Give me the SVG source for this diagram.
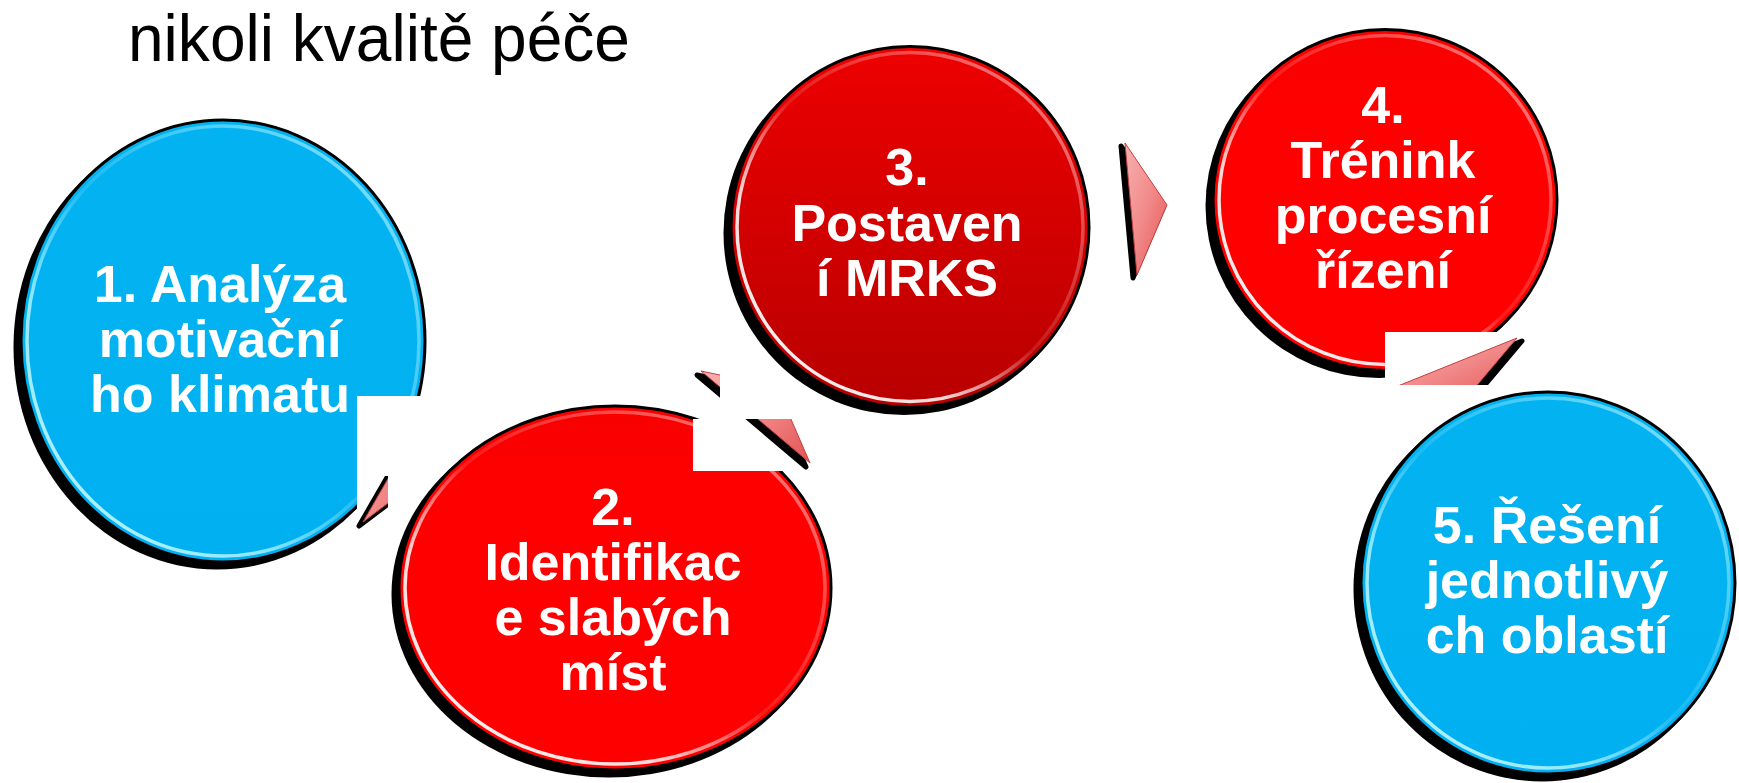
<svg xmlns="http://www.w3.org/2000/svg" width="1739" height="783" viewBox="0 0 1739 783">
<style>
.shadow{fill:#000}
.face{stroke:#000;stroke-width:3}
.rim{fill:none;stroke-width:3.5}
.lbl{font-family:"Liberation Sans",Arial,sans-serif;font-weight:bold;font-size:52px;fill:#fff;text-anchor:middle}
.title{font-family:"Liberation Sans",Arial,sans-serif;font-size:67px;fill:#000}
.ash{fill:#000;stroke:#000;stroke-width:5;stroke-linejoin:round}
.arr{fill:url(#gPink);stroke:#c04040;stroke-width:1;stroke-linejoin:round}
.wm{fill:#fff}
</style>
<defs>
<linearGradient id="gBlue" x1="0" y1="0" x2="0" y2="1"><stop offset="0" stop-color="#03b3f1"/><stop offset="1" stop-color="#00b0f0"/></linearGradient>
<linearGradient id="gRed" x1="0" y1="0" x2="0" y2="1"><stop offset="0" stop-color="#f80000"/><stop offset="0.25" stop-color="#ff0000"/><stop offset="1" stop-color="#ff0000"/></linearGradient>
<linearGradient id="gDark" x1="0" y1="0" x2="0" y2="1"><stop offset="0" stop-color="#ee0000"/><stop offset="1" stop-color="#b80000"/></linearGradient>
<linearGradient id="rimW" x1="0" y1="1" x2="1" y2="0"><stop offset="0" stop-color="#fff" stop-opacity="1"/><stop offset="0.3" stop-color="#fff" stop-opacity="0.85"/><stop offset="0.5" stop-color="#fff" stop-opacity="0.1"/><stop offset="0.75" stop-color="#fff" stop-opacity="0.3"/><stop offset="1" stop-color="#fff" stop-opacity="0.6"/></linearGradient>
<linearGradient id="rimB" x1="0" y1="1" x2="1" y2="0"><stop offset="0" stop-color="#c8f6ff" stop-opacity="1"/><stop offset="0.3" stop-color="#a0eeff" stop-opacity="0.9"/><stop offset="0.5" stop-color="#a0eeff" stop-opacity="0.15"/><stop offset="0.75" stop-color="#a0eeff" stop-opacity="0.5"/><stop offset="1" stop-color="#c8f6ff" stop-opacity="0.8"/></linearGradient>
<linearGradient id="gPink" x1="0" y1="0" x2="1" y2="1"><stop offset="0" stop-color="#f8b0b0"/><stop offset="0.5" stop-color="#f28a8a"/><stop offset="1" stop-color="#e45252"/></linearGradient>
<clipPath id="c12"><rect x="340" y="476" width="48" height="80"/></clipPath>
<clipPath id="c23"><rect x="600" y="300" width="120" height="200"/><rect x="600" y="419" width="300" height="100"/></clipPath>
<clipPath id="c45"><rect x="1300" y="300" width="300" height="85"/></clipPath>
</defs>

<text class="title" x="128" y="61" textLength="502" lengthAdjust="spacingAndGlyphs">nikoli kvalitě péče</text>

<g id="node1">
<ellipse class="shadow" cx="217" cy="347" rx="203.5" ry="222.5"/>
<ellipse class="face" cx="223" cy="341" rx="202" ry="221" fill="url(#gBlue)"/>
<ellipse class="rim" cx="223" cy="341" rx="196" ry="215" stroke="url(#rimB)"/>
<text class="lbl"><tspan x="220" y="302">1. Analýza</tspan><tspan x="220" y="357">motivační</tspan><tspan x="220" y="412">ho klimatu</tspan></text>
</g>

<g id="connectors">
<rect class="wm" x="357" y="396" width="83" height="145"/>
<g clip-path="url(#c12)">
<polygon class="ash" points="359,526 434,396 424,477"/>
<polygon class="arr" points="363,522 438,392 428,473"/>
</g>
</g>

<g id="node2">
<ellipse class="shadow" cx="609" cy="594" rx="217.5" ry="183.5"/>
<ellipse class="face" cx="615" cy="588" rx="216" ry="182" fill="url(#gRed)"/>
<ellipse class="rim" cx="615" cy="588" rx="210" ry="176" stroke="url(#rimW)"/>
<text class="lbl"><tspan x="613" y="525">2.</tspan><tspan x="613" y="580">Identifikac</tspan><tspan x="613" y="635">e slabých</tspan><tspan x="613" y="690">míst</tspan></text>
</g>

<g id="connectors2">
<rect class="wm" x="693" y="419" width="107" height="52"/>
<g clip-path="url(#c23)">
<polygon class="ash" points="697,375 806,467 773,391"/>
<polygon class="arr" points="701,371 810,463 777,387"/>
</g>
</g>

<g id="node3">
<ellipse class="shadow" cx="904" cy="233" rx="180.5" ry="182"/>
<ellipse class="face" cx="910" cy="227" rx="179" ry="180.5" fill="url(#gDark)"/>
<ellipse class="rim" cx="910" cy="227" rx="173" ry="174.5" stroke="url(#rimW)"/>
<text class="lbl"><tspan x="907" y="185">3.</tspan><tspan x="907" y="241">Postaven</tspan><tspan x="907" y="296">í MRKS</tspan></text>
</g>

<g id="connectors3">
<polygon class="ash" points="1121,146 1163,208 1133,278"/>
<polygon class="arr" points="1125,143 1167,205 1137,275"/>
</g>

<g id="node4">
<ellipse class="shadow" cx="1379" cy="206" rx="173.5" ry="172"/>
<ellipse class="face" cx="1385" cy="200" rx="172" ry="170.5" fill="url(#gRed)"/>
<ellipse class="rim" cx="1385" cy="200" rx="166" ry="164.5" stroke="url(#rimW)"/>
<text class="lbl"><tspan x="1383" y="123">4.</tspan><tspan x="1383" y="178">Trénink</tspan><tspan x="1383" y="233">procesní</tspan><tspan x="1383" y="288">řízení</tspan></text>
</g>

<g id="connectors4">
<rect class="wm" x="1385" y="332" width="160" height="54"/>
<g clip-path="url(#c45)">
<polygon class="ash" points="1522,341 1383,397 1467,406"/>
<polygon class="arr" points="1517,338 1378,394 1462,403"/>
</g>
</g>

<g id="node5">
<ellipse class="shadow" cx="1542" cy="589" rx="188.5" ry="192.5"/>
<ellipse class="face" cx="1548" cy="583" rx="187" ry="191" fill="url(#gBlue)"/>
<ellipse class="rim" cx="1548" cy="583" rx="181" ry="185" stroke="url(#rimB)"/>
<text class="lbl"><tspan x="1547" y="543">5. Řešení</tspan><tspan x="1547" y="598">jednotlivý</tspan><tspan x="1547" y="653">ch oblastí</tspan></text>
</g>
</svg>
